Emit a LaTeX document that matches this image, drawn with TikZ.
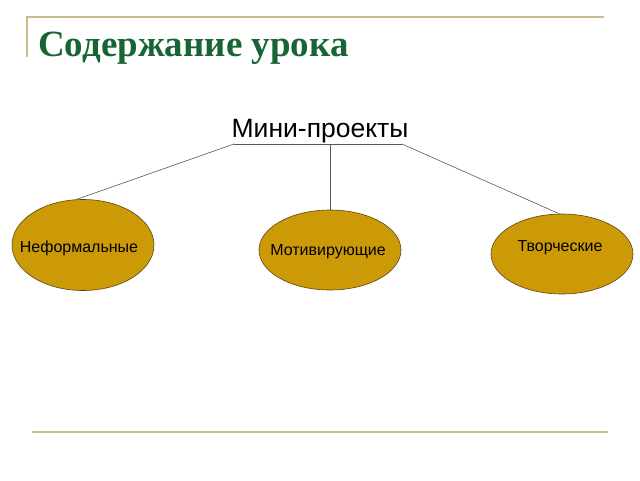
\documentclass[tikz,border=0pt]{standalone}
\usepackage{fontspec}
\setmainfont{Liberation Sans}
\newfontfamily\titlefont{Liberation Serif}
\usetikzlibrary{shapes.geometric}
\definecolor{rulegold}{RGB}{200,188,138}
\definecolor{titlegreen}{RGB}{24,100,52}
\definecolor{ovalfill}{RGB}{204,154,6}
\definecolor{ovaldraw}{RGB}{90,70,20}
\tikzset{
  kind/.style={ellipse,draw=ovaldraw,fill=ovalfill,line width=0.6pt,inner sep=0pt},
  link/.style={draw=black!65,line width=0.6pt}
}
\begin{document}
\begin{tikzpicture}[x=1pt,y=-1pt]
        \useasboundingbox (0,0) rectangle (640,480);
        % slide frame
        \draw[rulegold,line width=1.5pt] (27,57) -- (27,17) -- (604,17);
        \draw[rulegold,line width=2pt] (32,432) -- (608,432);
        
        % title
        \node[anchor=base west,text=titlegreen,font=\titlefont\bfseries\fontsize{37}{40}\selectfont,inner sep=0pt] (title) at (38,56) {Содержание урока};
        
        % root
        \node[font=\fontsize{26.5}{30}\selectfont,inner sep=0pt] (mini) at (320,131) {Мини-проекты};
        \coordinate (ml) at (234,144);
        \coordinate (mm) at (330,144);
        \coordinate (mr) at (402,144);
        \draw[link] (ml) -- (mr);
        
        % kinds of projects
        \node[kind,minimum width=142,minimum height=91] (k1) at (83,245) {};
        \node[kind,minimum width=142,minimum height=80] (k2) at (330,250) {};
        \node[kind,minimum width=142,minimum height=80] (k3) at (562,254) {};
        \node[font=\fontsize{16}{18}\selectfont] (t1) at (79,248) {Неформальные};
        \node[font=\fontsize{16}{18}\selectfont] (t2) at (328,252) {Мотивирующие};
        \node[font=\fontsize{16}{18}\selectfont] (t3) at (560,248) {Творческие};
        
        % connectors
        \draw[link] (ml) -- (k1.98);
        \draw[link] (mm) -- (k2.north);
        \draw[link] (mr) -- (k3.94);
    \end{tikzpicture}
\end{document}
